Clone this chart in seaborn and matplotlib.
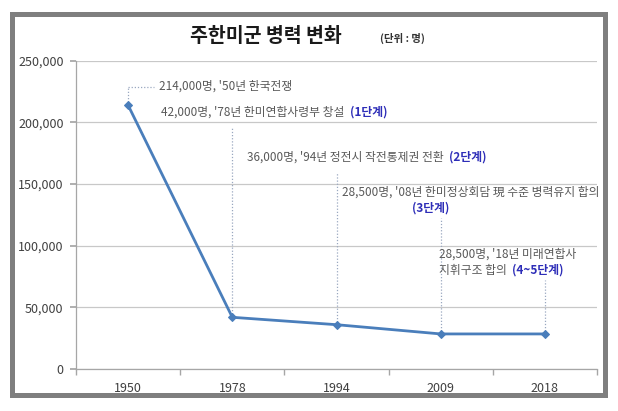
import pandas as pd
import matplotlib
matplotlib.use('Agg')
import matplotlib.pyplot as plt
import seaborn as sns
from matplotlib.patches import Rectangle
from matplotlib.ticker import FuncFormatter, FixedLocator

# Data
years = ['1950', '1978', '1994', '2009', '2018']
troops = [214000, 42000, 36000, 28500, 28500]

notes = [
    "214,000명, '50년 한국전쟁",
    "42,000명, '78년 한미연합사령부 창설",
    "36,000명, '94년 정전시 작전통제권 전환",
    "28,500명, '08년 한미정상회담 現 수준 병력유지 합의",
    "28,500명, '18년 미래연합사\n지휘구조 합의",
]
stages = ['', '(1단계)', '(2단계)', '(3단계)', '(4~5단계)']

sns.set_theme(style='white')
plt.rcParams['font.family'] = ['Noto Sans CJK KR', 'DejaVu Sans']

df = pd.DataFrame({'year': years, 'troops': troops})

fig = plt.figure(figsize=(6.18, 4.11), dpi=100)
ax = fig.add_axes([0.123, 0.102, 0.843, 0.750])

sns.lineplot(data=df, x='year', y='troops', ax=ax, color='#4a7ebb', linewidth=2,
             marker='D', markersize=4, markeredgecolor='#4a7ebb', zorder=5)

ax.set_xlim(-0.5, 4.5)
ax.set_ylim(0, 250000)
ax.set_yticks(range(0, 250001, 50000))
ax.yaxis.set_major_formatter(FuncFormatter(lambda v, p: f'{int(v):,}'))
ax.grid(axis='y', color='#c8c8c8', linewidth=0.9)
ax.grid(axis='x', visible=False)
ax.set_xlabel('')
ax.set_ylabel('')

for side in ['top', 'right']:
    ax.spines[side].set_visible(False)
for side in ['left', 'bottom']:
    ax.spines[side].set_color('#a6a6a6')
    ax.spines[side].set_linewidth(0.9)

ax.tick_params(axis='y', left=True, length=4, color='#a6a6a6', labelsize=9,
               labelcolor='#404040', pad=5)
ax.tick_params(axis='x', bottom=False, labelsize=9, labelcolor='#404040', pad=3)
ax.xaxis.set_minor_locator(FixedLocator([-0.5, 0.5, 1.5, 2.5, 3.5, 4.5]))
ax.tick_params(axis='x', which='minor', bottom=True, length=4, color='#a6a6a6')

# dotted leader lines from points up to the notes
lead_top = [229000, 196000, 159000, 122500, 72000]
leader = dict(color='#9aa8c0', linestyle=(0, (1, 1.5)), linewidth=0.9, zorder=3)
for i, top in enumerate(lead_top):
    ax.plot([i, i], [troops[i], top], **leader)
ax.plot([0, 0.25], [lead_top[0], lead_top[0]], **leader)

# notes
note_pos = [(0.30, 229700), (0.32, 208600), (1.14, 172100), (2.05, 143700), (2.98, 93300)]
gray = '#595959'
blue = '#2e2eb8'
fs = 8.5
line_step = 13000
for i, (txt, (nx, ny)) in enumerate(zip(notes, note_pos)):
    t = None
    for k, line in enumerate(txt.split('\n')):
        t = ax.text(nx, ny - k * line_step, line, fontsize=fs, color=gray,
                    va='center', ha='left', zorder=6)
    if stages[i] == '':
        continue
    if i == 3:
        ax.text(2.9, 130700, stages[i], fontsize=fs, color=blue, fontweight='bold',
                va='center', ha='center', zorder=6)
    else:
        ax.annotate(stages[i], xy=(1, 0), xycoords=t, xytext=(4, 0),
                    textcoords='offset points', fontsize=fs, color=blue,
                    fontweight='bold', va='bottom', ha='left')

# title
fig.text(0.43, 0.912, '주한미군 병력 변화', fontsize=14, fontweight='bold',
         color='#1a1a1a', ha='center', va='center')
fig.text(0.652, 0.907, '(단위 : 명)', fontsize=7.5, fontweight='bold',
         color='#333333', ha='center', va='center')

# grey frame around the chart
fig.patches.append(Rectangle((0.0194, 0.039), 0.9596, 0.927, transform=fig.transFigure,
                             fill=False, edgecolor='#7f7f7f', linewidth=3.6))

fig.savefig('out.png', dpi=100)
